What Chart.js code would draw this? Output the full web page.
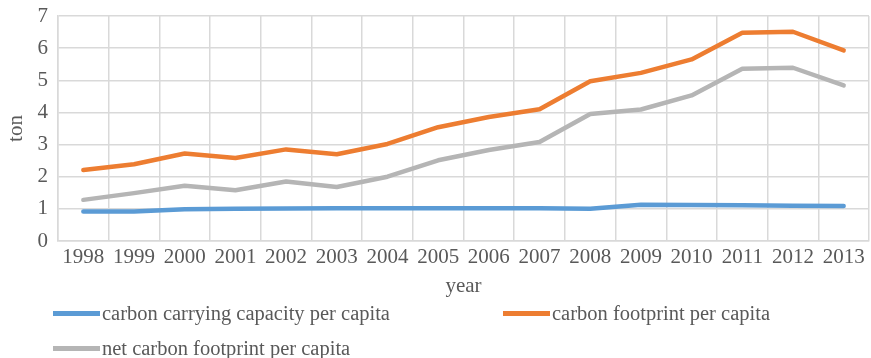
<!DOCTYPE html>
<html>
<head>
<meta charset="utf-8">
<script src="https://cdn.jsdelivr.net/npm/chart.js@4"></script>
<style>
  body { margin: 0; background: #fff; }
  .wrap { position: relative; width: 871px; height: 358px; }
  .legend-item {
    position: absolute;
    font-family: "Liberation Serif", "Times New Roman", serif;
    font-size: 20.5px;
    color: #595959;
    display: flex;
    align-items: center;
    white-space: nowrap;
  }
  .legend-item .swatch { width: 47px; height: 5px; margin-right: 2px; }
</style>
</head>
<body>
<div class="wrap">
  <canvas id="carbonChart" width="871" height="358"></canvas>
  <div id="legend"></div>
</div>
<script>
// 数据
const years = ['1998', '1999', '2000', '2001', '2002', '2003', '2004', '2005',
  '2006', '2007', '2008', '2009', '2010', '2011', '2012', '2013'];
const carryingCapacity = [0.92, 0.92, 0.99, 1.00, 1.01, 1.02, 1.02, 1.02,
  1.02, 1.02, 1.00, 1.13, 1.12, 1.11, 1.10, 1.09];
const footprint = [2.21, 2.39, 2.72, 2.58, 2.85, 2.70, 3.02, 3.54,
  3.86, 4.10, 4.97, 5.23, 5.65, 6.48, 6.51, 5.93];
const netFootprint = [1.28, 1.49, 1.72, 1.58, 1.85, 1.68, 2.00, 2.51,
  2.83, 3.08, 3.95, 4.09, 4.53, 5.36, 5.39, 4.84];
const yTicks = [0, 1, 2, 3, 4, 5, 6, 7];

const seriesNames = ['carbon carrying capacity per capita', 'carbon footprint per capita', 'net carbon footprint per capita'];
const seriesColors = ['#5B9BD5', '#ED7D31', '#B5B5B5'];

const fontFamily = '"Liberation Serif", "Times New Roman", serif';
const gridColor = '#D9D9D9';
const textColor = '#595959';

new Chart(document.getElementById('carbonChart'), {
  type: 'line',
  data: {
    labels: years,
    datasets: [carryingCapacity, footprint, netFootprint].map((d, i) => ({
      label: seriesNames[i],
      data: d,
      borderColor: seriesColors[i],
      backgroundColor: seriesColors[i],
      borderWidth: 4.5,
      pointRadius: 0,
      tension: 0,
      borderCapStyle: 'round',
      borderJoinStyle: 'round'
    }))
  },
  options: {
    responsive: false,
    animation: false,
    layout: { padding: { top: 16, right: 2, left: 0, bottom: 58 } },
    plugins: {
      legend: { display: false },
      tooltip: { enabled: false }
    },
    scales: {
      x: {
        offset: true,
        grid: { offset: true, color: gridColor, lineWidth: 1.5, drawTicks: false },
        border: { color: gridColor, width: 1.5 },
        ticks: { color: textColor, padding: 4, maxRotation: 0, autoSkip: false,
          font: { family: fontFamily, size: 21 } },
        title: { display: true, text: 'year', color: textColor,
          padding: { top: 4, bottom: 1 }, font: { family: fontFamily, size: 21 } },
        afterFit: function(scale) {
          scale.height = 59;
          scale.paddingLeft = 0;
          scale.paddingRight = 0;
        }
      },
      y: {
        min: 0,
        max: 7,
        afterBuildTicks: function(scale) { scale.ticks = yTicks.map(v => ({ value: v })); },
        grid: { color: gridColor, lineWidth: 1.5, drawTicks: false },
        border: { color: gridColor, width: 1.5 },
        ticks: { color: textColor, padding: 10, font: { family: fontFamily, size: 21 } },
        title: { display: true, text: 'ton', color: textColor,
          padding: { top: 4, bottom: 4 }, font: { family: fontFamily, size: 21 } },
        afterFit: function(scale) {
          scale.width = 58;
          scale.paddingTop = 0;
          scale.paddingBottom = 0;
        }
      }
    }
  }
});

// 自定义图例（Excel 风格）
const legendPos = [
  { left: 53, top: 313 },
  { left: 503, top: 313 },
  { left: 53, top: 348 }
];
const legendEl = document.getElementById('legend');
seriesNames.forEach((name, i) => {
  const item = document.createElement('div');
  item.className = 'legend-item';
  item.style.left = legendPos[i].left + 'px';
  item.style.top = (legendPos[i].top - 12) + 'px';
  item.style.height = '24px';
  item.innerHTML = '<span class="swatch" style="background:' + seriesColors[i] + '"></span>' + name;
  legendEl.appendChild(item);
});
</script>
</body>
</html>
